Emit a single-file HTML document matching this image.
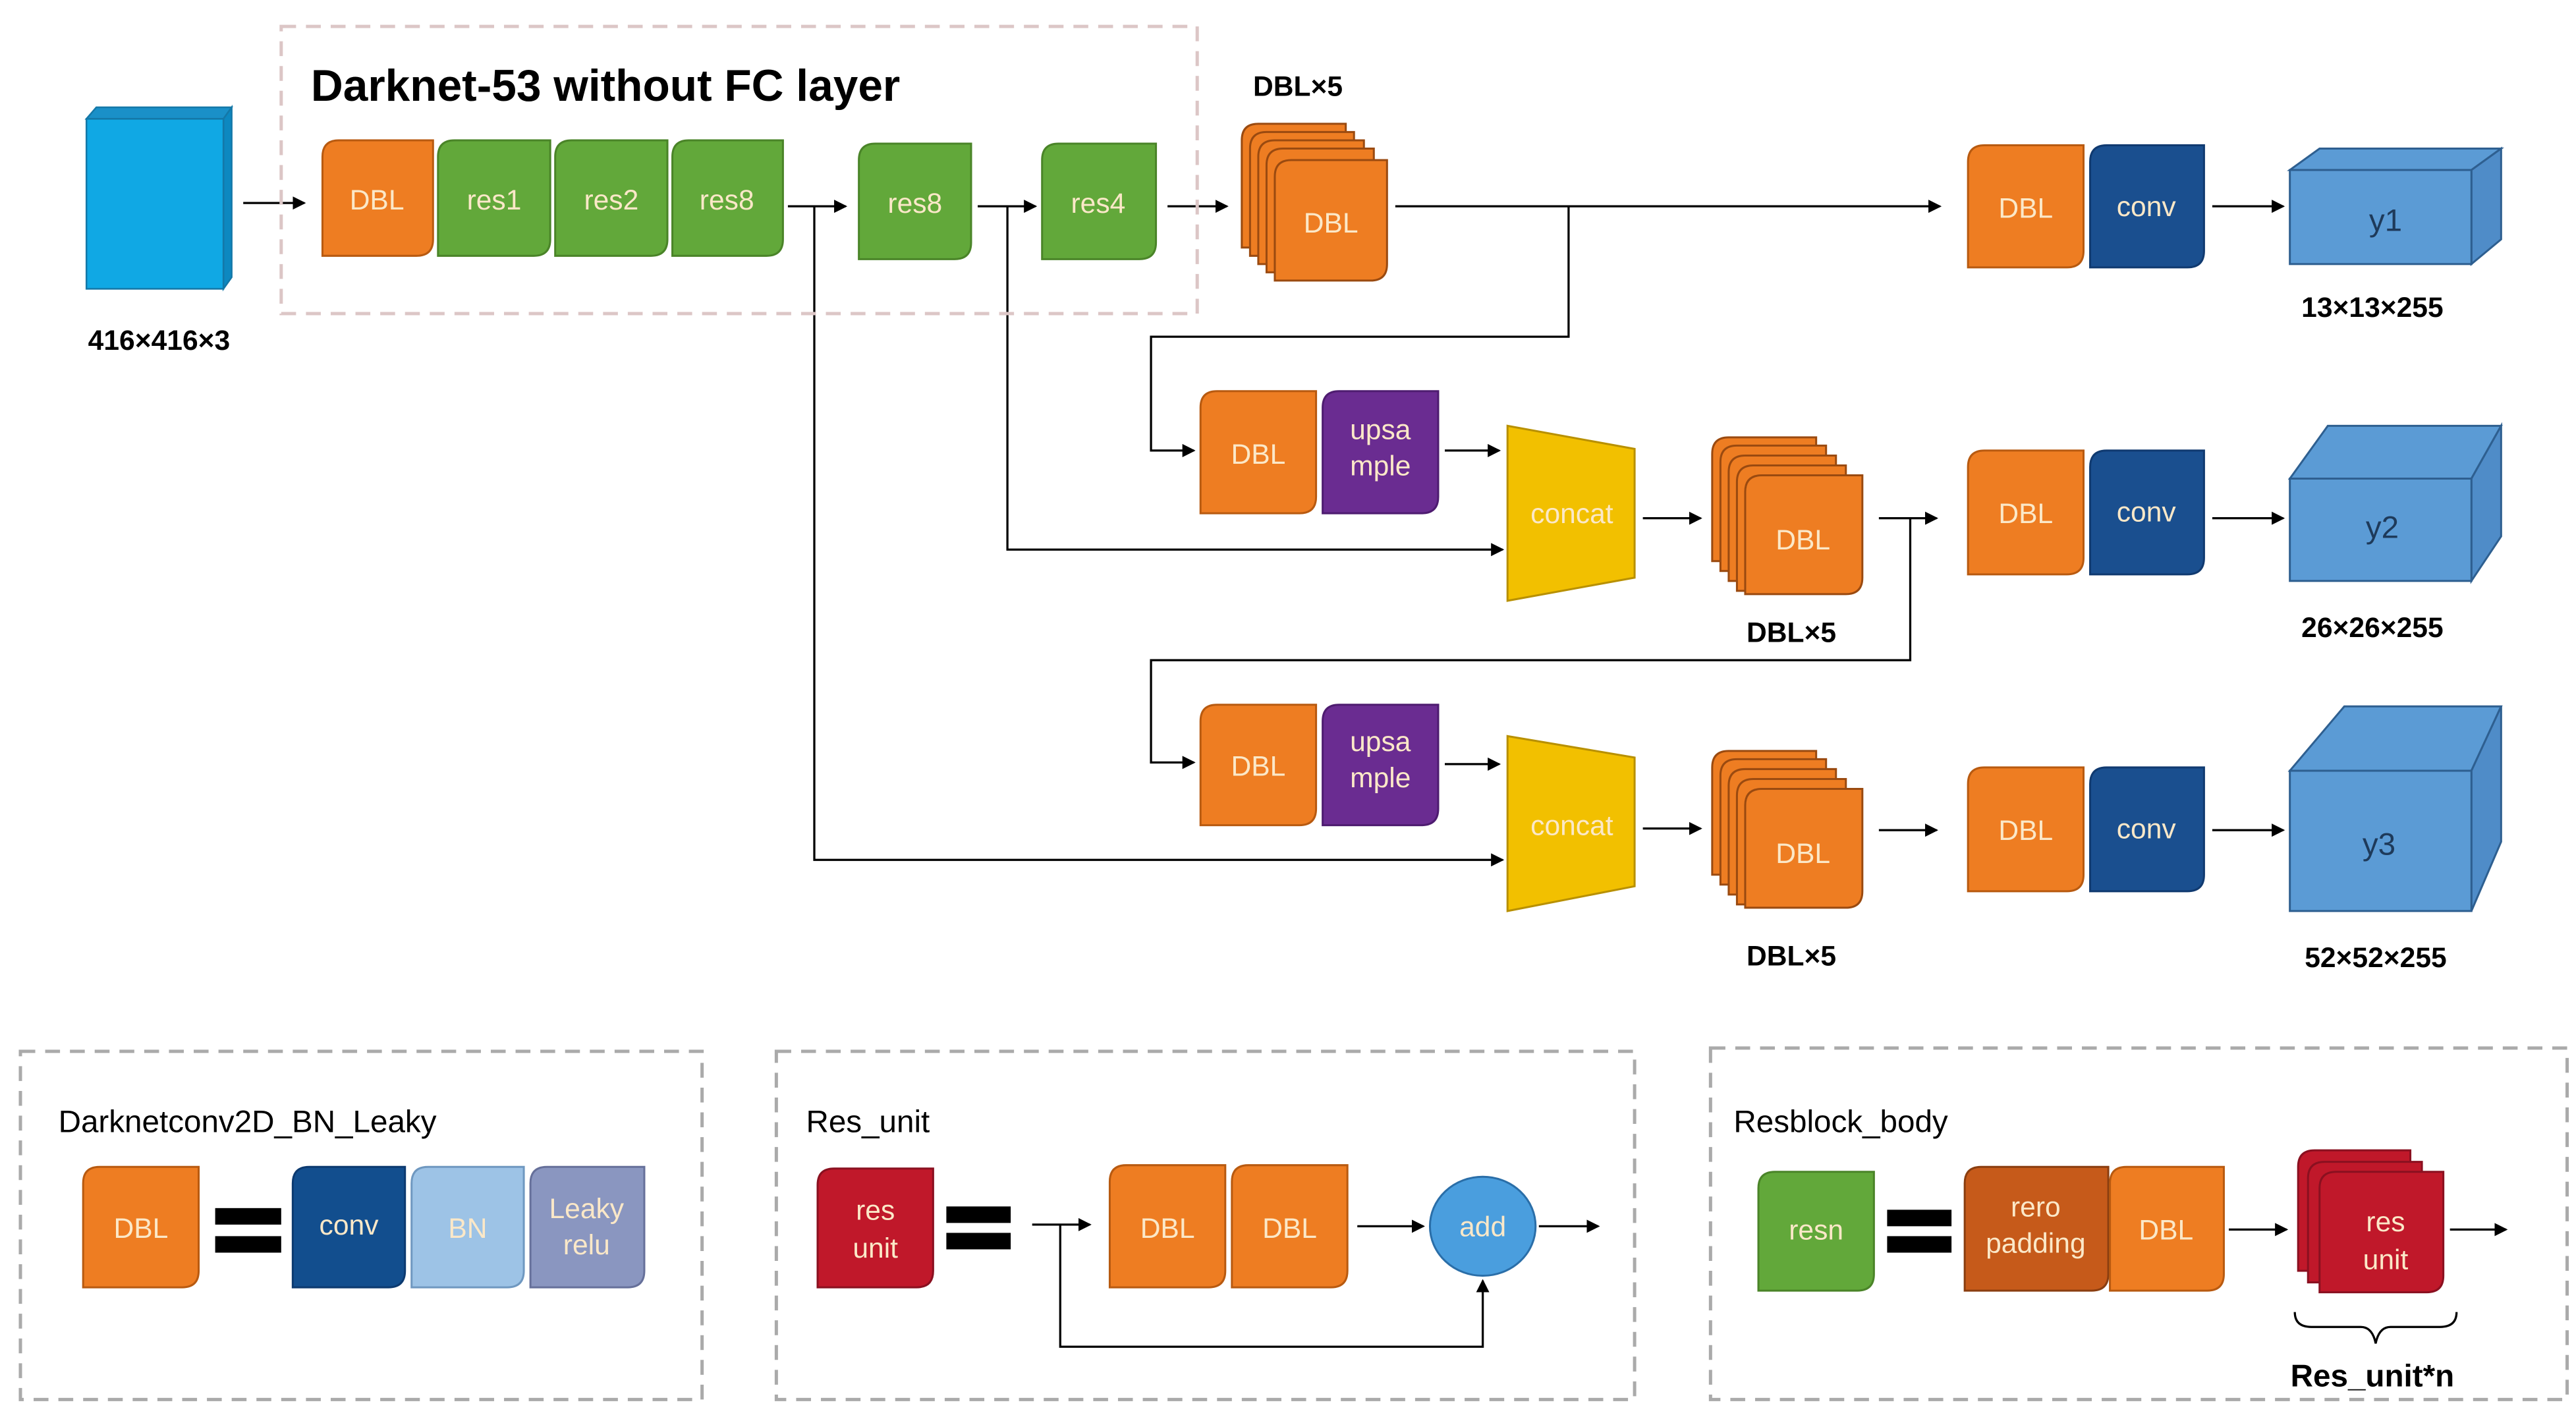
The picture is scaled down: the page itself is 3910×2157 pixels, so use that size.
<!DOCTYPE html>
<html><head><meta charset="utf-8"><style>html,body{margin:0;padding:0;background:#fff}svg{display:block}</style></head><body>
<svg width="3910" height="2157" viewBox="0 0 1560 861" xmlns="http://www.w3.org/2000/svg" font-family="Liberation Sans, sans-serif">
<defs>
<marker id="a" markerWidth="8" markerHeight="8" refX="7" refY="4" orient="auto" markerUnits="userSpaceOnUse"><path d="M0,0 L8,4 L0,8 Z" fill="#000"/></marker>
</defs>
<g stroke="#000" stroke-width="1.3" fill="none">
<!-- main arrows -->
<line x1="147" y1="123" x2="184" y2="123" marker-end="url(#a)"/>
<line x1="477" y1="125" x2="512" y2="125" marker-end="url(#a)"/>
<line x1="592" y1="125" x2="627" y2="125" marker-end="url(#a)"/>
<line x1="707" y1="125" x2="743" y2="125" marker-end="url(#a)"/>
<line x1="845" y1="125" x2="1175" y2="125" marker-end="url(#a)"/>
<polyline points="950,125 950,204 697,204 697,273 723,273" marker-end="url(#a)"/>
<polyline points="493,125 493,521 910,521" marker-end="url(#a)"/>
<polyline points="610,125 610,333 910,333" marker-end="url(#a)"/>
<line x1="875" y1="273" x2="908" y2="273" marker-end="url(#a)"/>
<line x1="995" y1="314" x2="1030" y2="314" marker-end="url(#a)"/>
<line x1="1138" y1="314" x2="1173" y2="314" marker-end="url(#a)"/>
<polyline points="1157,314 1157,400 697,400 697,462 723,462" marker-end="url(#a)"/>
<line x1="875" y1="463" x2="908" y2="463" marker-end="url(#a)"/>
<line x1="995" y1="502" x2="1030" y2="502" marker-end="url(#a)"/>
<line x1="1138" y1="503" x2="1173" y2="503" marker-end="url(#a)"/>
<line x1="1340" y1="125" x2="1383" y2="125" marker-end="url(#a)"/>
<line x1="1340" y1="314" x2="1383" y2="314" marker-end="url(#a)"/>
<line x1="1340" y1="503" x2="1383" y2="503" marker-end="url(#a)"/>
<!-- bottom arrows -->
<line x1="625" y1="742" x2="660" y2="742" marker-end="url(#a)"/>
<line x1="822" y1="743" x2="862" y2="743" marker-end="url(#a)"/>
<line x1="932" y1="743" x2="968" y2="743" marker-end="url(#a)"/>
<polyline points="642,742 642,816 898,816 898,776" marker-end="url(#a)"/>
<line x1="1350" y1="745" x2="1385" y2="745" marker-end="url(#a)"/>
<line x1="1484" y1="745" x2="1518" y2="745" marker-end="url(#a)"/>
<path d="M1390,795 Q1390,804 1400,804 L1430,804 Q1437,804 1439,814 Q1441,804 1448,804 L1478,804 Q1488,804 1488,795"/>
</g>
<!-- dashed boxes -->
<rect x="170" y="16" width="555" height="174" fill="none" stroke="#dcc6c6" stroke-width="2" stroke-dasharray="9,6"/>
<rect x="12" y="637" width="413" height="211" fill="none" stroke="#aaa" stroke-width="2" stroke-dasharray="9,6"/>
<rect x="470" y="637" width="520" height="211" fill="none" stroke="#aaa" stroke-width="2" stroke-dasharray="9,6"/>
<rect x="1036" y="635" width="519" height="213" fill="none" stroke="#aaa" stroke-width="2" stroke-dasharray="9,6"/>
<!-- input cube -->
<polygon points="52,72 58,65 140,65 135,72" fill="#1a90c8" stroke="#1478a8"/>
<polygon points="135,72 140,65 140,168 135,175" fill="#0d88c0" stroke="#1478a8"/>
<rect x="52" y="72" width="83" height="103" fill="#10a8e4" stroke="#1478a8"/>
<g font-weight="bold" fill="#000" text-anchor="middle" font-size="17">
<text x="96" y="212">416×416×3</text>
<text x="786" y="58">DBL×5</text>
<text x="1437" y="192">13×13×255</text>
<text x="1085" y="389">DBL×5</text>
<text x="1437" y="386">26×26×255</text>
<text x="1085" y="585">DBL×5</text>
<text x="1439" y="586">52×52×255</text>
<text x="1437" y="840" font-size="19">Res_unit*n</text>
</g>
<text x="188" y="61" font-size="27" font-weight="bold" fill="#000">Darknet-53 without FC layer</text>
<g font-size="19" fill="#000">
<text x="35" y="686">Darknetconv2D_BN_Leaky</text>
<text x="488" y="686">Res_unit</text>
<text x="1050" y="686">Resblock_body</text>
</g>
<!-- blocks: rounded TL and BR -->
<g stroke-width="1.2">
<path d="M195,95 Q195,85 205,85 H262 V145 Q262,155 252,155 H195 Z" fill="#ee7d22" stroke="#b85a10"/>
<path d="M265,95 Q265,85 275,85 H333 V145 Q333,155 323,155 H265 Z" fill="#62a83a" stroke="#4a8428"/>
<path d="M336,95 Q336,85 346,85 H404 V145 Q404,155 394,155 H336 Z" fill="#62a83a" stroke="#4a8428"/>
<path d="M407,95 Q407,85 417,85 H474 V145 Q474,155 464,155 H407 Z" fill="#62a83a" stroke="#4a8428"/>
<path d="M520,97 Q520,87 530,87 H588 V147 Q588,157 578,157 H520 Z" fill="#62a83a" stroke="#4a8428"/>
<path d="M631,97 Q631,87 641,87 H700 V147 Q700,157 690,157 H631 Z" fill="#62a83a" stroke="#4a8428"/>
<!-- stack 1 -->
<path d="M752,85 Q752,75 762,75 H815 V140 Q815,150 805,150 H752 Z" fill="#ee7d22" stroke="#9a4a10"/>
<path d="M757,90 Q757,80 767,80 H820 V145 Q820,155 810,155 H757 Z" fill="#ee7d22" stroke="#9a4a10"/>
<path d="M762,95 Q762,85 772,85 H826 V150 Q826,160 816,160 H762 Z" fill="#ee7d22" stroke="#9a4a10"/>
<path d="M767,100 Q767,90 777,90 H832 V155 Q832,165 822,165 H767 Z" fill="#ee7d22" stroke="#9a4a10"/>
<path d="M772,107 Q772,97 782,97 H840 V160 Q840,170 830,170 H772 Z" fill="#ee7d22" stroke="#9a4a10"/>
<!-- row1 out -->
<path d="M1192,98 Q1192,88 1202,88 H1262 V152 Q1262,162 1252,162 H1192 Z" fill="#ee7d22" stroke="#b85a10"/>
<path d="M1266,98 Q1266,88 1276,88 H1335 V152 Q1335,162 1325,162 H1266 Z" fill="#1a4f8f" stroke="#103a70"/>
<path d="M1192,283 Q1192,273 1202,273 H1262 V338 Q1262,348 1252,348 H1192 Z" fill="#ee7d22" stroke="#b85a10"/>
<path d="M1266,283 Q1266,273 1276,273 H1335 V338 Q1335,348 1325,348 H1266 Z" fill="#1a4f8f" stroke="#103a70"/>
<path d="M1192,475 Q1192,465 1202,465 H1262 V530 Q1262,540 1252,540 H1192 Z" fill="#ee7d22" stroke="#b85a10"/>
<path d="M1266,475 Q1266,465 1276,465 H1335 V530 Q1335,540 1325,540 H1266 Z" fill="#1a4f8f" stroke="#103a70"/>
<!-- row2 -->
<path d="M727,247 Q727,237 737,237 H797 V301 Q797,311 787,311 H727 Z" fill="#ee7d22" stroke="#b85a10"/>
<path d="M801,247 Q801,237 811,237 H871 V301 Q871,311 861,311 H801 Z" fill="#6a2c91" stroke="#4e1c70"/>
<polygon points="913,258 990,272 990,350 913,364" fill="#f2c000" stroke="#b89000"/>
<!-- row3 -->
<path d="M727,437 Q727,427 737,427 H797 V490 Q797,500 787,500 H727 Z" fill="#ee7d22" stroke="#b85a10"/>
<path d="M801,437 Q801,427 811,427 H871 V490 Q871,500 861,500 H801 Z" fill="#6a2c91" stroke="#4e1c70"/>
<polygon points="913,446 990,459 990,537 913,552" fill="#f2c000" stroke="#b89000"/>
<!-- stack 2 -->
<path d="M1037,275 Q1037,265 1047,265 H1100 V330 Q1100,340 1090,340 H1037 Z" fill="#ee7d22" stroke="#9a4a10"/>
<path d="M1042,280 Q1042,270 1052,270 H1106 V336 Q1106,346 1096,346 H1042 Z" fill="#ee7d22" stroke="#9a4a10"/>
<path d="M1047,286 Q1047,276 1057,276 H1112 V342 Q1112,352 1102,352 H1047 Z" fill="#ee7d22" stroke="#9a4a10"/>
<path d="M1052,292 Q1052,282 1062,282 H1118 V348 Q1118,358 1108,358 H1052 Z" fill="#ee7d22" stroke="#9a4a10"/>
<path d="M1057,298 Q1057,288 1067,288 H1128 V350 Q1128,360 1118,360 H1057 Z" fill="#ee7d22" stroke="#9a4a10"/>
<!-- stack 3 -->
<path d="M1037,465 Q1037,455 1047,455 H1100 V520 Q1100,530 1090,530 H1037 Z" fill="#ee7d22" stroke="#9a4a10"/>
<path d="M1042,470 Q1042,460 1052,460 H1106 V526 Q1106,536 1096,536 H1042 Z" fill="#ee7d22" stroke="#9a4a10"/>
<path d="M1047,476 Q1047,466 1057,466 H1112 V532 Q1112,542 1102,542 H1047 Z" fill="#ee7d22" stroke="#9a4a10"/>
<path d="M1052,482 Q1052,472 1062,472 H1118 V538 Q1118,548 1108,548 H1052 Z" fill="#ee7d22" stroke="#9a4a10"/>
<path d="M1057,488 Q1057,478 1067,478 H1128 V540 Q1128,550 1118,550 H1057 Z" fill="#ee7d22" stroke="#9a4a10"/>
<!-- output cubes -->
<polygon points="1387,103 1405,90 1515,90 1497,103" fill="#5b9bd5" stroke="#2e5f90"/>
<polygon points="1497,103 1515,90 1515,145 1497,160" fill="#4f8cc8" stroke="#2e5f90"/>
<rect x="1387" y="103" width="110" height="57" fill="#5b9bd5" stroke="#2e5f90"/>
<polygon points="1387,290 1410,258 1515,258 1497,290" fill="#5b9bd5" stroke="#2e5f90"/>
<polygon points="1497,290 1515,258 1515,325 1497,352" fill="#4f8cc8" stroke="#2e5f90"/>
<rect x="1387" y="290" width="110" height="62" fill="#5b9bd5" stroke="#2e5f90"/>
<polygon points="1387,467 1420,428 1515,428 1497,467" fill="#5b9bd5" stroke="#2e5f90"/>
<polygon points="1497,467 1515,428 1515,510 1497,552" fill="#4f8cc8" stroke="#2e5f90"/>
<rect x="1387" y="467" width="110" height="85" fill="#5b9bd5" stroke="#2e5f90"/>
<!-- legend 1 -->
<path d="M50,717 Q50,707 60,707 H120 V770 Q120,780 110,780 H50 Z" fill="#ee7d22" stroke="#b85a10"/>
<path d="M177,717 Q177,707 187,707 H245 V770 Q245,780 235,780 H177 Z" fill="#124e8e" stroke="#0c3a70"/>
<path d="M249,717 Q249,707 259,707 H317 V770 Q317,780 307,780 H249 Z" fill="#9dc3e6" stroke="#6f98c0"/>
<path d="M321,717 Q321,707 331,707 H390 V770 Q390,780 380,780 H321 Z" fill="#8a96c0" stroke="#66709a"/>
<!-- legend 2 -->
<path d="M495,718 Q495,708 505,708 H565 V770 Q565,780 555,780 H495 Z" fill="#c0182a" stroke="#8a1020"/>
<path d="M672,716 Q672,706 682,706 H742 V770 Q742,780 732,780 H672 Z" fill="#ee7d22" stroke="#b85a10"/>
<path d="M746,716 Q746,706 756,706 H816 V770 Q816,780 806,780 H746 Z" fill="#ee7d22" stroke="#b85a10"/>
<ellipse cx="898" cy="743" rx="32" ry="30" fill="#4a9ede" stroke="#2a6ea8"/>
<!-- legend 3 -->
<path d="M1065,720 Q1065,710 1075,710 H1135 V772 Q1135,782 1125,782 H1065 Z" fill="#62a83a" stroke="#4a8428"/>
<path d="M1190,717 Q1190,707 1200,707 H1277 V772 Q1277,782 1267,782 H1190 Z" fill="#c65a1a" stroke="#8a3e10"/>
<path d="M1278,717 Q1278,707 1288,707 H1347 V772 Q1347,782 1337,782 H1278 Z" fill="#ee7d22" stroke="#b85a10"/>
<path d="M1392,707 Q1392,697 1402,697 H1460 V760 Q1460,770 1450,770 H1392 Z" fill="#c0182a" stroke="#8a1020"/>
<path d="M1398,714 Q1398,704 1408,704 H1467 V767 Q1467,777 1457,777 H1398 Z" fill="#c0182a" stroke="#8a1020"/>
<path d="M1405,720 Q1405,710 1415,710 H1480 V773 Q1480,783 1470,783 H1405 Z" fill="#c0182a" stroke="#8a1020"/>
</g>
<!-- equals signs -->
<g fill="#000">
<rect x="130" y="732" width="40" height="10"/><rect x="130" y="749" width="40" height="10"/>
<rect x="573" y="731" width="39" height="10"/><rect x="573" y="747" width="39" height="10"/>
<rect x="1143" y="733" width="39" height="10"/><rect x="1143" y="749" width="39" height="10"/>
</g>
<!-- block labels -->
<g fill="#fbe8c8" font-size="17" text-anchor="middle">
<text x="228" y="127">DBL</text>
<text x="299" y="127">res1</text>
<text x="370" y="127">res2</text>
<text x="440" y="127">res8</text>
<text x="554" y="129">res8</text>
<text x="665" y="129">res4</text>
<text x="806" y="141">DBL</text>
<text x="1227" y="132">DBL</text>
<text x="1300" y="131">conv</text>
<text x="1227" y="317">DBL</text>
<text x="1300" y="316">conv</text>
<text x="1227" y="509">DBL</text>
<text x="1300" y="508">conv</text>
<text x="762" y="281">DBL</text>
<text x="836" y="266">upsa</text>
<text x="836" y="288">mple</text>
<text x="952" y="317">concat</text>
<text x="1092" y="333">DBL</text>
<text x="762" y="470">DBL</text>
<text x="836" y="455">upsa</text>
<text x="836" y="477">mple</text>
<text x="952" y="506">concat</text>
<text x="1092" y="523">DBL</text>
<text x="85" y="750">DBL</text>
<text x="211" y="748">conv</text>
<text x="283" y="750">BN</text>
<text x="355" y="738">Leaky</text>
<text x="355" y="760">relu</text>
<text x="530" y="739">res</text>
<text x="530" y="762">unit</text>
<text x="707" y="750">DBL</text>
<text x="781" y="750">DBL</text>
<text x="898" y="749">add</text>
<text x="1100" y="751">resn</text>
<text x="1233" y="737">rero</text>
<text x="1233" y="759">padding</text>
<text x="1312" y="751">DBL</text>
<text x="1445" y="746">res</text>
<text x="1445" y="769">unit</text>
</g>
<g fill="#1e3a5a" font-size="19" text-anchor="middle">
<text x="1445" y="140">y1</text>
<text x="1443" y="326">y2</text>
<text x="1441" y="518">y3</text>
</g>
</svg>
</body></html>
